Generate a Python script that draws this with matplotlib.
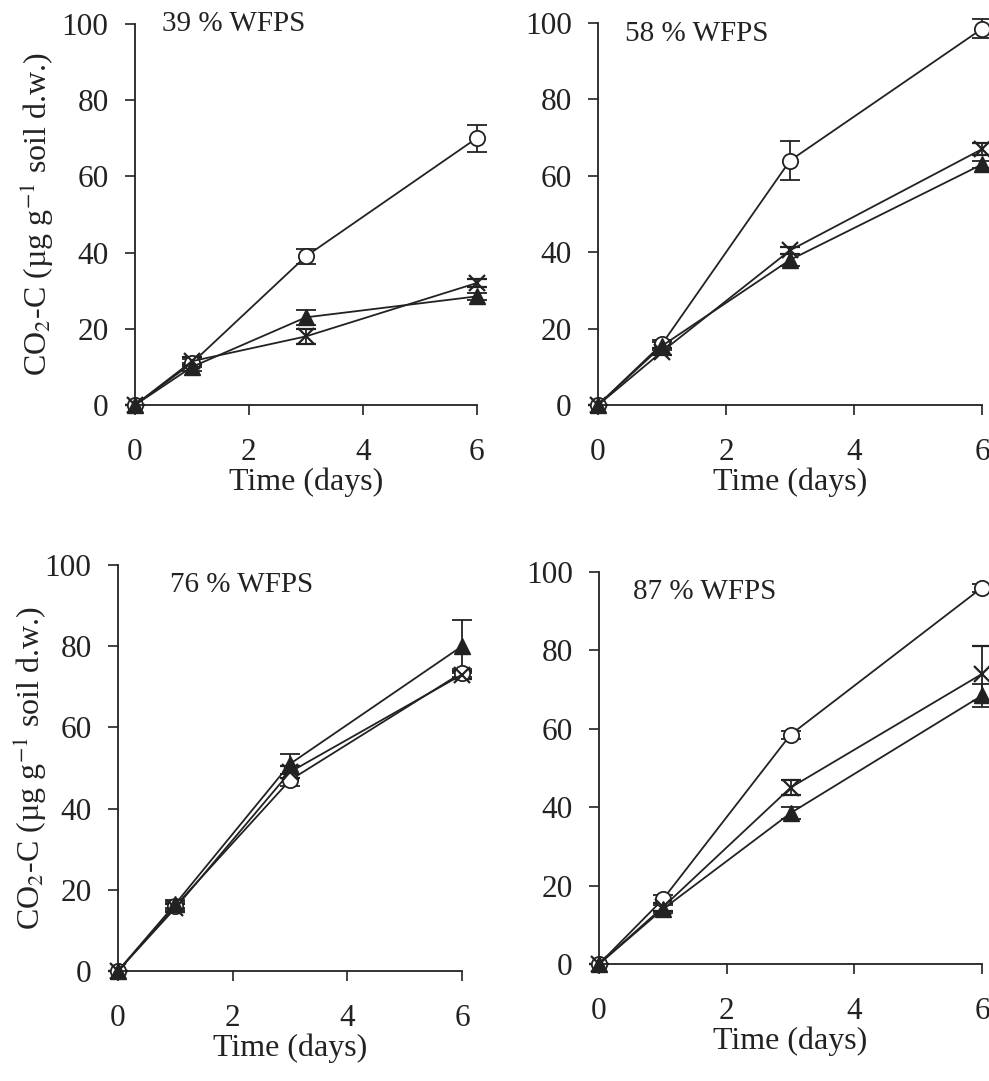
import matplotlib
matplotlib.use("Agg")
from matplotlib import pyplot as plt

# Data

days = [0, 1, 3, 6]
panel_titles = ["39 % WFPS", "58 % WFPS", "76 % WFPS", "87 % WFPS"]

# 39 % WFPS
circle_39 = [0, 11, 39, 70]
circle_39_err = [0, 1, 2, 3.5]
cross_39 = [0, 11.5, 18, 32]
cross_39_err = [0, 1, 2, 1]
triangle_39 = [0, 10, 23, 28.5]
triangle_39_err = [0, 1, 2, 1]

# 58 % WFPS
circle_58 = [0, 16, 64, 98.5]
circle_58_err = [0, 1, 5, 2.5]
cross_58 = [0, 14, 40.5, 67]
cross_58_err = [0, 1, 1, 1.5]
triangle_58 = [0, 15.5, 38, 63]
triangle_58_err = [0, 1, 1.5, 1]

# 76 % WFPS
circle_76 = [0, 16, 47, 73.5]
circle_76_err = [0, 1, 1.5, 1]
cross_76 = [0, 15.5, 49, 73]
cross_76_err = [0, 1, 1.5, 1]
triangle_76 = [0, 16.5, 51, 80]
triangle_76_err = [0, 1, 2.5, 6.5]

# 87 % WFPS
circle_87 = [0, 16.5, 58.5, 96]
circle_87_err = [0, 1, 1, 1]
cross_87 = [0, 14.5, 45, 74]
cross_87_err = [0, 1, 2, 7]
triangle_87 = [0, 14, 38.5, 68.5]
triangle_87_err = [0, 1, 1.5, 3]

x_ticks = [0, 2, 4, 6]
y_ticks = [0, 20, 40, 60, 80, 100]

INK = "#222222"

plt.rcParams["font.family"] = ["Liberation Serif", "DejaVu Serif"]
plt.rcParams["mathtext.fontset"] = "stix"


def draw_panel(ax, title, title_xy, circle, circle_err, cross, cross_err, tri, tri_err, ylabel_x):
    # open circles first, filled symbols drawn over them
    series = [
        (circle, circle_err, dict(marker="o", mfc="white", ms=11, mew=1.3)),
        (cross, cross_err, dict(marker="x", mfc=INK, ms=12, mew=1.6)),
        (tri, tri_err, dict(marker="^", mfc=INK, ms=11)),
    ]
    for vals, err, style in series:
        cont = ax.errorbar(
            days, vals, yerr=err, color=INK, mec=INK, lw=1.3,
            capsize=7, elinewidth=1.3, capthick=1.3, **style
        )
        for art in cont.get_children():
            art.set_clip_on(False)

    ax.set_xlim(0, 6)
    ax.set_ylim(0, 100)
    ax.set_xticks(x_ticks)
    ax.set_yticks(y_ticks)
    for side in ["top", "right"]:
        ax.spines[side].set_visible(False)
    for side in ["left", "bottom"]:
        ax.spines[side].set_linewidth(1.3)
        ax.spines[side].set_color(INK)
    ax.tick_params(axis="both", direction="out", length=7, width=1.2, colors=INK, labelsize=22.5)
    ax.tick_params(axis="x", pad=17)
    ax.tick_params(axis="y", pad=12)

    ax.set_xlabel("Time (days)", fontsize=23, color=INK, labelpad=0)
    if ylabel_x is not None:
        ax.set_ylabel(r"CO$_2$-C (µg g$^{-1}$ soil d.w.)", fontsize=23, color=INK)
        ax.yaxis.set_label_coords(ylabel_x, 0.5)
    ax.text(title_xy[0], title_xy[1], title, fontsize=21, color=INK, ha="left", va="center")


def main():
    fig = plt.figure(figsize=(9.89, 10.81), dpi=100)

    # left, bottom, width, height in figure fraction
    boxes = [
        [0.1365, 0.6253, 0.3455, 0.3527],
        [0.6047, 0.6253, 0.3883, 0.3534],
        [0.1193, 0.1018, 0.3478, 0.3755],
        [0.6057, 0.1082, 0.3873, 0.3627],
    ]
    title_pos = [(0.47, 100), (0.42, 97), (0.9, 95), (0.53, 95)]
    ylabel_pos = [-0.23, None, -0.20, None]
    data = [
        (circle_39, circle_39_err, cross_39, cross_39_err, triangle_39, triangle_39_err),
        (circle_58, circle_58_err, cross_58, cross_58_err, triangle_58, triangle_58_err),
        (circle_76, circle_76_err, cross_76, cross_76_err, triangle_76, triangle_76_err),
        (circle_87, circle_87_err, cross_87, cross_87_err, triangle_87, triangle_87_err),
    ]

    for i in range(4):
        ax = fig.add_axes(boxes[i])
        draw_panel(ax, panel_titles[i], title_pos[i], *data[i], ylabel_x=ylabel_pos[i])

    fig.savefig("out.png", dpi=100)


if __name__ == "__main__":
    main()
